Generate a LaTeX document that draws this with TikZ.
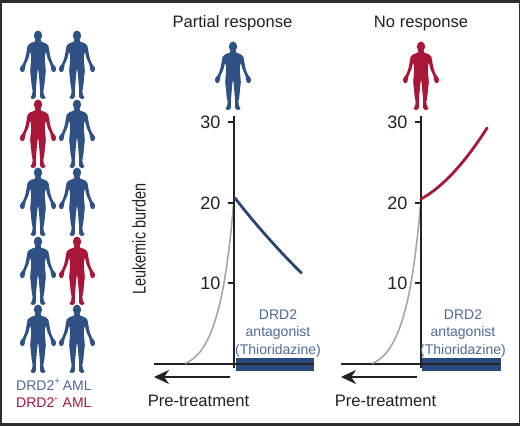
\documentclass[tikz,border=0pt]{standalone}
\usepackage{fontspec}
\usepackage{graphicx}
\setmainfont{Liberation Sans}
\usetikzlibrary{arrows.meta}
\definecolor{bodyblue}{HTML}{2F5184}
\definecolor{bodyred}{HTML}{A8163A}
\definecolor{curveblue}{HTML}{27466F}
\definecolor{bandblue}{HTML}{27497C}
\definecolor{labelblue}{HTML}{4F6A94}
\definecolor{framegrey}{HTML}{2E2E2E}
\definecolor{inkblack}{HTML}{222222}
\definecolor{curvegrey}{HTML}{A6A6A6}
\newcommand{\bodyhalf}{
  plot[smooth,tension=0.45] coordinates {(0,8) (2.8,8.5) (3,10.5) (7.5,12.2) (10.3,14.5) (11.5,21) (13,28) (15.5,33.5) (17.6,36) (18,38.5) (16.5,41) (14,40.5) (13,37) (12.5,34) (9.5,27) (7.8,21) (6.8,27) (7.2,33) (7.8,40) (7,47) (6.4,54) (5.4,60) (6,64) (7.5,66.8) (4.5,68) (2.2,66) (2.2,60) (1.6,52) (0.8,43) (0,37)}
}
\tikzset{
  person/.pic={
    \fill[pic actions] (0,4.6) ellipse[x radius=4.2,y radius=5];
    \fill[pic actions] \bodyhalf -- cycle;
    \begin{scope}[xscale=-1]
    \fill[pic actions] \bodyhalf -- cycle;
    \end{scope}
  },
  blueperson/.style={fill=bodyblue},
  redperson/.style={fill=bodyred},
  axisline/.style={draw=inkblack,line width=2.5pt},
  baseline/.style={draw=inkblack,line width=2pt},
  tickmark/.style={draw=inkblack,line width=1.7pt},
  pretreat/.style={draw=inkblack,line width=2pt,-{Stealth[length=15pt,width=14pt]}},
  growth/.style={draw=curvegrey,line width=1.6pt},
  band/.style={fill=bandblue,draw=none},
  ticklabel/.style={font=\fontsize{18}{18}\selectfont,text=inkblack,anchor=east,inner sep=0pt},
  title/.style={font=\fontsize{16.6}{17}\selectfont,text=inkblack,inner sep=0pt},
  druglabel/.style={font=\fontsize{14}{15}\selectfont,text=labelblue,inner sep=0pt,anchor=base},
  legendlabel/.style={font=\fontsize{14}{15}\selectfont,inner sep=0pt,anchor=base west},
}
\begin{document}
\begin{tikzpicture}[x=1pt,y=-1pt]
\useasboundingbox (0,0) rectangle (520,426);
\fill[framegrey] (0,0) rectangle (520,426);
\fill[white] (2,3) rectangle (518.5,423);

% people grid
\foreach \px/\py/\kind in {38/31/blueperson,77/31/blueperson,38/100/redperson,77/100/blueperson,38/168/blueperson,77/168/blueperson,38/237/blueperson,77/237/redperson,38/305/blueperson,77/305/blueperson,233/42/blueperson,421/42/redperson}
  \pic[\kind] at (\px,\py) {person};

% legend
\node[legendlabel,text=labelblue] (legplus) at (16,390) {DRD2\textsuperscript{+}\,AML};
\node[legendlabel,text=bodyred] (legminus) at (16,407) {DRD2\textsuperscript{-}\,\,AML};

% titles
\node[title] (titleL) at (232.5,23.5) {Partial response};
\node[title] (titleR) at (421,23.5) {No response};

% y label
\node[rotate=90,font=\fontsize{18.5}{19}\selectfont,text=inkblack,inner sep=0pt] (ylab) at (139,239) {\scalebox{0.78}[1]{Leukemic burden}};

% left panel
\fill[band] (236,358) rectangle (314,371);
\coordinate (LT) at (234,116); \coordinate (LB) at (234,368);
\coordinate (LbS) at (154,364); \coordinate (LbE) at (314,364);
\draw[baseline] (LbS) -- (LbE);
\draw[growth] (185,363.5) .. controls (215,352) and (226,290) .. (233.5,205);
\draw[axisline] (LT) -- (LB);
\foreach \yy/\lab in {122/30,203/20,283/10}{
  \coordinate (Lt\lab) at (228,\yy); \coordinate (Lta\lab) at (234,\yy);
  \draw[tickmark] (Lt\lab) -- (Lta\lab);
  \node[ticklabel] at (220.5,\yy) {\lab};
}
\draw[curveblue,line width=2.8pt,line cap=round] (235,198) .. controls (255,224) and (280,252) .. (301.5,273);
\coordinate (LaS) at (230,377); \coordinate (LaE) at (154,377);
\draw[pretreat] (LaS) -- (LaE);
\node[title,anchor=base] (preL) at (198.5,406) {Pre-treatment};
\node[druglabel] (dL1) at (278,319) {DRD2};
\node[druglabel] (dL2) at (278,336) {antagonist};
\node[druglabel] (dL3) at (278,354) {(Thioridazine)};

% right panel
\fill[band] (422,358) rectangle (501,371);
\coordinate (RT) at (421,116); \coordinate (RB) at (421,368);
\coordinate (RbS) at (341,364); \coordinate (RbE) at (500,364);
\draw[baseline] (RbS) -- (RbE);
\draw[growth] (372,363.5) .. controls (402,352) and (413,290) .. (420.5,205);
\draw[axisline] (RT) -- (RB);
\foreach \yy/\lab in {122/30,203/20,283/10}{
  \coordinate (Rt\lab) at (415,\yy); \coordinate (Rta\lab) at (421,\yy);
  \draw[tickmark] (Rt\lab) -- (Rta\lab);
  \node[ticklabel] at (407.5,\yy) {\lab};
}
\draw[bodyred,line width=2.8pt,line cap=round] (421,199) .. controls (445,186) and (468,158) .. (487,128);
\coordinate (RaS) at (417,377); \coordinate (RaE) at (341,377);
\draw[pretreat] (RaS) -- (RaE);
\node[title,anchor=base] (preR) at (385.5,406) {Pre-treatment};
\node[druglabel] (dR1) at (463,319) {DRD2};
\node[druglabel] (dR2) at (463,336) {antagonist};
\node[druglabel] (dR3) at (463,354) {(Thioridazine)};
\end{tikzpicture}
\end{document}
